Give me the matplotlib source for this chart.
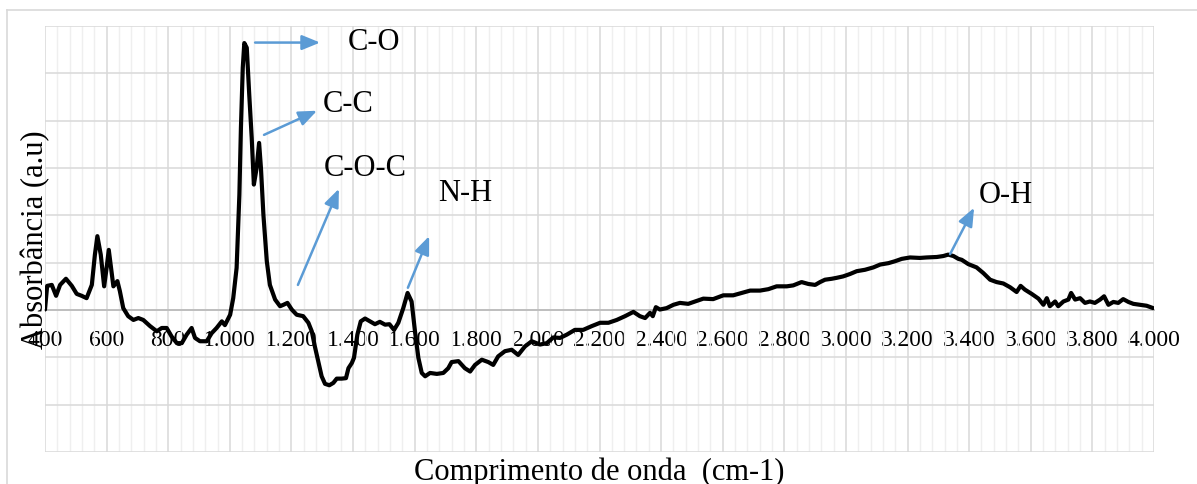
import numpy as np
import matplotlib
matplotlib.use("Agg")
import matplotlib.pyplot as plt
from matplotlib.lines import Line2D

plt.rcParams['font.family'] = ['Liberation Serif', 'DejaVu Serif']

# FTIR spectrum: wavenumber (cm-1) and absorbance (a.u)
wavenumber = [
    400, 407, 422, 436, 449, 468, 487, 503, 519, 535,
    552, 562, 570, 581, 592, 600, 607, 613, 622, 635,
    643, 654, 670, 687, 703, 719, 741, 763, 779, 795,
    811, 828, 844, 860, 876, 887, 903, 925, 941, 957,
    974, 984, 1001, 1011, 1022, 1031, 1036, 1042, 1047, 1055,
    1063, 1071, 1078, 1087, 1095, 1101, 1109, 1120, 1130, 1147,
    1163, 1174, 1187, 1201, 1217, 1238, 1255, 1266, 1276, 1287,
    1298, 1309, 1323, 1336, 1347, 1363, 1377, 1385, 1396, 1403,
    1414, 1425, 1439, 1455, 1471, 1487, 1504, 1518, 1533, 1547,
    1563, 1577, 1590, 1601, 1612, 1623, 1634, 1650, 1672, 1693,
    1709, 1720, 1742, 1763, 1780, 1796, 1818, 1839, 1855, 1871,
    1893, 1915, 1936, 1958, 1980, 2007, 2029, 2050, 2072, 2094,
    2120, 2147, 2175, 2202, 2229, 2256, 2283, 2310, 2331, 2348,
    2364, 2373, 2383, 2396, 2418, 2440, 2461, 2488, 2510, 2537,
    2569, 2602, 2634, 2662, 2689, 2721, 2748, 2775, 2808, 2829,
    2856, 2878, 2900, 2916, 2932, 2954, 2970, 2991, 3013, 3035,
    3062, 3089, 3111, 3138, 3159, 3181, 3208, 3240, 3262, 3295,
    3316, 3332, 3349, 3365, 3376, 3397, 3424, 3446, 3468, 3489,
    3511, 3533, 3554, 3567, 3581, 3603, 3625, 3641, 3652, 3662,
    3679, 3689, 3706, 3722, 3731, 3744, 3760, 3776, 3792, 3808,
    3825, 3838, 3852, 3868, 3884, 3900, 3917, 3933, 3954, 3976,
    3997,
]
absorbance = [
    0.001, 0.051, 0.053, 0.030, 0.053, 0.066, 0.051, 0.034, 0.030, 0.025,
    0.053, 0.117, 0.156, 0.117, 0.050, 0.089, 0.127, 0.096, 0.050, 0.061,
    0.040, 0.004, -0.013, -0.021, -0.017, -0.021, -0.034, -0.045, -0.038, -0.038,
    -0.056, -0.070, -0.070, -0.052, -0.038, -0.059, -0.066, -0.066, -0.049, -0.038,
    -0.024, -0.032, -0.010, 0.025, 0.089, 0.244, 0.385, 0.512, 0.564, 0.554,
    0.455, 0.364, 0.265, 0.300, 0.353, 0.300, 0.201, 0.103, 0.053, 0.022,
    0.008, 0.011, 0.015, 0.001, -0.010, -0.013, -0.027, -0.045, -0.077, -0.108,
    -0.140, -0.156, -0.159, -0.154, -0.145, -0.145, -0.144, -0.123, -0.112, -0.101,
    -0.052, -0.024, -0.018, -0.024, -0.030, -0.025, -0.031, -0.030, -0.042, -0.027,
    0.004, 0.036, 0.018, -0.045, -0.101, -0.133, -0.140, -0.133, -0.135, -0.133,
    -0.123, -0.110, -0.108, -0.123, -0.130, -0.116, -0.105, -0.110, -0.116, -0.098,
    -0.087, -0.084, -0.095, -0.077, -0.066, -0.073, -0.070, -0.058, -0.059, -0.052,
    -0.042, -0.042, -0.034, -0.027, -0.027, -0.021, -0.013, -0.004, -0.013, -0.017,
    -0.006, -0.013, 0.006, 0.001, 0.004, 0.011, 0.015, 0.013, 0.018, 0.024,
    0.023, 0.031, 0.031, 0.036, 0.041, 0.041, 0.044, 0.050, 0.050, 0.052,
    0.059, 0.055, 0.053, 0.059, 0.064, 0.066, 0.068, 0.071, 0.076, 0.082,
    0.085, 0.090, 0.096, 0.099, 0.103, 0.108, 0.111, 0.110, 0.111, 0.112,
    0.114, 0.117, 0.114, 0.108, 0.106, 0.097, 0.090, 0.078, 0.064, 0.059,
    0.056, 0.048, 0.038, 0.051, 0.043, 0.034, 0.024, 0.011, 0.025, 0.008,
    0.018, 0.008, 0.018, 0.022, 0.036, 0.022, 0.025, 0.015, 0.018, 0.015,
    0.022, 0.029, 0.011, 0.017, 0.015, 0.023, 0.017, 0.013, 0.011, 0.009,
    0.004,
]

# Band assignments: label, arrow tail (x, y), arrow head (x, y), label anchor (x, y)
band_labels = ["C-O", "C-C", "C-O-C", "N-H", "O-H"]
arrow_tails = [(1082, 0.565), (1111, 0.370), (1221, 0.053), (1578, 0.047), (3338, 0.118)]
arrow_heads = [(1293, 0.565), (1283, 0.421), (1354, 0.256), (1647, 0.156), (3416, 0.216)]
label_pos = [(1384, 0.552), (1302, 0.421), (1306, 0.285), (1676, 0.233), (3432, 0.228)]

x_major = np.arange(400, 4001, 200)
x_minor = np.arange(400, 4001, 40)
y_major = np.arange(-0.3, 0.6001, 0.1)

W, H = 1197, 485
fig = plt.figure(figsize=(W / 100, H / 100), dpi=100)
ax = fig.add_axes([45 / W, 1 - 453 / H, (1154 - 45) / W, (453 - 27) / H])

# outer chart frame
frame_kw = dict(color='#d9d9d9', lw=1.2, transform=fig.transFigure)
fig.add_artist(Line2D([7 / W, 7 / W], [0, 1 - 11 / H], **frame_kw))
fig.add_artist(Line2D([7 / W, 1], [1 - 11 / H, 1 - 11 / H], **frame_kw))

ax.set_xlim(400, 4000)
ax.set_ylim(-0.3, 0.6)
ax.set_xticks(x_major)
ax.set_xticks(x_minor, minor=True)
ax.set_yticks(y_major)
ax.set_xticklabels([f"{v:,}".replace(",", ".") for v in x_major])
ax.set_yticklabels([])

ax.grid(which='minor', axis='x', color='#efefef', lw=1.0, zorder=0)
ax.grid(which='major', color='#d9d9d9', lw=1.1, zorder=0)
ax.set_axisbelow(True)

for side in ('top', 'right', 'left'):
    ax.spines[side].set_visible(False)
ax.spines['bottom'].set_position(('data', 0))
ax.spines['bottom'].set_color('#bfbfbf')
ax.spines['bottom'].set_linewidth(1.4)
ax.tick_params(axis='both', which='both', length=0)
ax.tick_params(axis='x', which='major', pad=14, labelsize=17, labelcolor='black')

ax.plot(wavenumber, absorbance, color='black', lw=3.0,
        solid_joinstyle='round', solid_capstyle='round', zorder=3)

for lab, tail, head, pos in zip(band_labels, arrow_tails, arrow_heads, label_pos):
    ax.annotate('', xy=head, xytext=tail,
                arrowprops=dict(arrowstyle='-|>,head_length=1.1,head_width=0.45',
                                color='#5b9bd5', lw=1.8, shrinkA=0, shrinkB=0,
                                mutation_scale=10),
                zorder=4)
    ax.text(pos[0], pos[1], lab, fontsize=22, ha='left', va='baseline', zorder=5)

ax.set_xlabel("Comprimento de onda  (cm-1)", fontsize=22, va='baseline')
ax.xaxis.set_label_coords(0.5, (453 - 480) / 426)
ax.set_ylabel("Absorbância (a.u)", fontsize=22, va='baseline', ha='center')
ax.yaxis.set_label_coords((43 - 45) / 1109, 0.5)

fig.savefig("out.png", dpi=100)
